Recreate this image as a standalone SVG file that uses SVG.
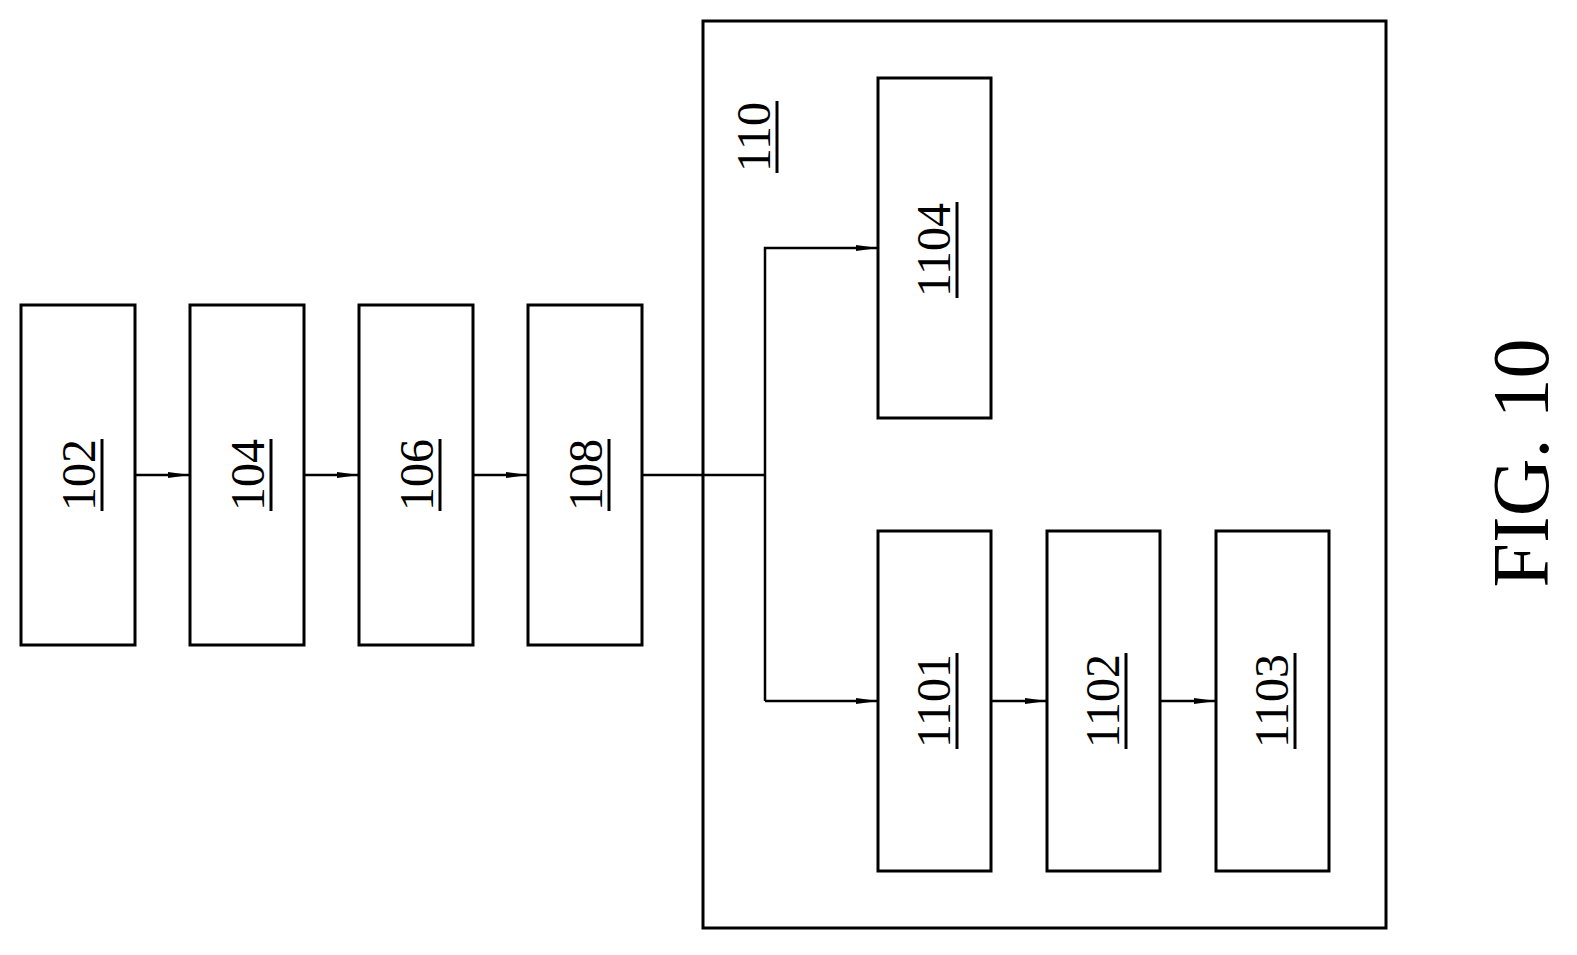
<svg xmlns="http://www.w3.org/2000/svg" width="1577" height="955" viewBox="0 0 1577 955">
<style>
.b{fill:#fff;stroke:#000;stroke-width:3}
.t{font-family:"Liberation Serif",serif;font-size:48px;text-anchor:middle;fill:#000}
.u{stroke:#000;stroke-width:3}
.c{stroke:#000;stroke-width:2.5;fill:none}
</style>
<defs>
<marker id="a" markerWidth="22" markerHeight="8" refX="22" refY="4" orient="auto" markerUnits="userSpaceOnUse">
<path d="M0,1 L22,4 L0,7 Z" fill="#000"/>
</marker>
</defs>
<rect width="1577" height="955" fill="#fff"/>
<g id="n110"><rect class="b" x="703" y="21" width="683" height="907"/>
<g transform="translate(770,137) rotate(-90)"><text class="t" x="0" y="0">110</text><line class="u" x1="-36" y1="7" x2="36" y2="7"/></g></g>
<g id="n102"><rect class="b" x="21" y="305" width="114" height="340"/>
<g transform="translate(95,475) rotate(-90)"><text class="t">102</text><line class="u" x1="-36" y1="7" x2="36" y2="7"/></g></g>
<g id="n104"><rect class="b" x="190" y="305" width="114" height="340"/>
<g transform="translate(264,475) rotate(-90)"><text class="t">104</text><line class="u" x1="-36" y1="7" x2="36" y2="7"/></g></g>
<g id="n106"><rect class="b" x="359" y="305" width="114" height="340"/>
<g transform="translate(433,475) rotate(-90)"><text class="t">106</text><line class="u" x1="-36" y1="7" x2="36" y2="7"/></g></g>
<g id="n108"><rect class="b" x="528" y="305" width="114" height="340"/>
<g transform="translate(602,475) rotate(-90)"><text class="t">108</text><line class="u" x1="-36" y1="7" x2="36" y2="7"/></g></g>
<g id="n1104"><rect class="b" x="878" y="78" width="113" height="340"/>
<g transform="translate(950,250) rotate(-90)"><text class="t">1104</text><line class="u" x1="-48" y1="7" x2="48" y2="7"/></g></g>
<g id="n1101"><rect class="b" x="878" y="531" width="113" height="340"/>
<g transform="translate(950,701) rotate(-90)"><text class="t">1101</text><line class="u" x1="-48" y1="7" x2="48" y2="7"/></g></g>
<g id="n1102"><rect class="b" x="1047" y="531" width="113" height="340"/>
<g transform="translate(1119,701) rotate(-90)"><text class="t">1102</text><line class="u" x1="-48" y1="7" x2="48" y2="7"/></g></g>
<g id="n1103"><rect class="b" x="1216" y="531" width="113" height="340"/>
<g transform="translate(1288,701) rotate(-90)"><text class="t">1103</text><line class="u" x1="-48" y1="7" x2="48" y2="7"/></g></g>
<g id="connectors">
<line class="c" x1="135" y1="475" x2="190" y2="475" marker-end="url(#a)"/>
<line class="c" x1="304" y1="475" x2="359" y2="475" marker-end="url(#a)"/>
<line class="c" x1="473" y1="475" x2="528" y2="475" marker-end="url(#a)"/>
<path class="c" d="M642,475 H765"/>
<path class="c" d="M765,701 V248 H878" marker-end="url(#a)"/>
<path class="c" d="M765,701 H878" marker-end="url(#a)"/>
<line class="c" x1="991" y1="701" x2="1047" y2="701" marker-end="url(#a)"/>
<line class="c" x1="1160" y1="701" x2="1216" y2="701" marker-end="url(#a)"/>
</g>
<g transform="translate(1548,463) rotate(-90)"><text font-family="Liberation Serif,serif" font-size="80" text-anchor="middle">FIG. 10</text></g>
</svg>
